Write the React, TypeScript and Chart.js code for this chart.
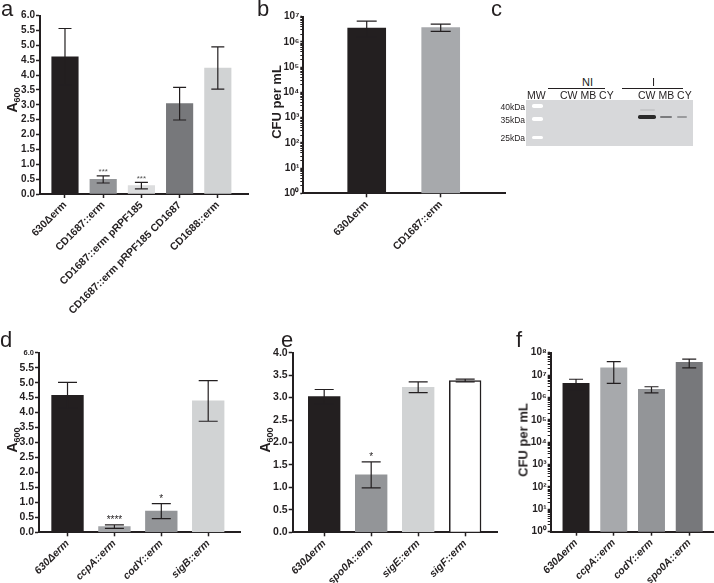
import React, { useEffect, useRef } from 'react';
import { Chart, registerables } from 'chart.js';

Chart.register(...registerables);

const FONT = "'Liberation Sans', Arial, Helvetica, sans-serif";
const INK = '#231f20';

// ---------- Panel a ----------
const aLabels = ['630Δerm', 'CD1687::erm', 'CD1687::erm pRPF185', 'CD1687::erm pRPF185 CD1687', 'CD1688::erm'];
const aMeans = [4.62, 0.49, 0.28, 3.04, 4.24];
const aErrors = [0.95, 0.12, 0.11, 0.55, 0.71];
const aStars = ['', '***', '***', '', ''];
const aColors = ['#231f20', '#939598', '#dcddde', '#77787b', '#d1d3d4'];

// ---------- Panel b ----------
const bLabels = ['630Δerm', 'CD1687::erm'];
const bMeans = [3.5e6, 3.7e6];
const bLow = [1.6e6, 2.6e6];
const bHigh = [6.7e6, 5.1e6];
const bColors = ['#231f20', '#a7a9ac'];

// ---------- Panel d ----------
const dLabels = ['630Δerm', 'ccpA::erm', 'codY::erm', 'sigB::erm'];
const dMeans = [4.58, 0.19, 0.71, 4.39];
const dErrors = [0.43, 0.06, 0.25, 0.68];
const dStars = ['', '****', '*', ''];
const dColors = ['#231f20', '#a2a4a7', '#939598', '#d1d3d4'];

// ---------- Panel e ----------
const eLabels = ['630Δerm', 'spo0A::erm', 'sigE::erm', 'sigF::erm'];
const eMeans = [3.02, 1.28, 3.23, 3.38];
const eErrors = [0.16, 0.29, 0.12, 0.03];
const eStars = ['', '*', '', ''];
const eColors = ['#231f20', '#939598', '#d1d3d4', '#ffffff'];
const eEdges = ['#231f20', '#939598', '#d1d3d4', '#231f20'];
const eEdgeWidths = [0, 0, 0, 1.5];

// ---------- Panel f ----------
const fLabels = ['630Δerm', 'ccpA::erm', 'codY::erm', 'spo0A::erm'];
const fMeans = [4.3e6, 2.1e7, 2.3e6, 3.7e7];
const fLow = [2.2e6, 4.3e6, 1.6e6, 2.1e7];
const fHigh = [6.5e6, 4.0e7, 3.0e6, 5.2e7];
const fColors = ['#231f20', '#a7a9ac', '#939598', '#77787b'];

// ---------- Axis tick labels ----------
const SUP = ['⁰', '¹', '²', '³', '⁴', '⁵', '⁶', '⁷', '⁸', '⁹'];

type Spec = {
  box: [number, number, number, number];
  plot: [number, number, number, number];
  xRange: [number, number];
  labels: string[];
  means: number[];
  low: number[];
  high: number[];
  colors: string[];
  edges?: string[];
  edgeWidths?: number[];
  stars?: string[];
  starSize: number;
  starColor: string;
  log: boolean;
  yRange: [number, number];
  yStep?: number;
  yFont: number;
  yTopSmall?: boolean;
  xFont: number;
  italic: boolean;
  barPx: number;
  capPx: number;
};

function sub(a: number[], b: number[]) {
  return a.map((v, i) => v - b[i]);
}
function add(a: number[], b: number[]) {
  return a.map((v, i) => v + b[i]);
}

const specs: Spec[] = [
  {
    box: [0, 0, 252, 340],
    plot: [40, 15.7, 248, 194],
    xRange: [-0.654, 4.79],
    labels: aLabels,
    means: aMeans,
    low: sub(aMeans, aErrors),
    high: add(aMeans, aErrors),
    colors: aColors,
    stars: aStars,
    starSize: 8,
    starColor: '#555',
    log: false,
    yRange: [0, 6],
    yStep: 0.5,
    yFont: 10,
    xFont: 10.5,
    italic: false,
    barPx: 26.5,
    capPx: 13,
  },
  {
    box: [255, 0, 252, 300],
    plot: [303.3, 16.7, 505, 193.3],
    xRange: [-0.857, 1.869],
    labels: bLabels,
    means: bMeans,
    low: bLow,
    high: bHigh,
    colors: bColors,
    starSize: 9,
    starColor: INK,
    log: true,
    yRange: [1, 1e7],
    yFont: 10,
    xFont: 10.5,
    italic: false,
    barPx: 38,
    capPx: 20,
  },
  {
    box: [0, 320, 250, 263],
    plot: [39, 352.7, 240, 532.3],
    xRange: [-0.608, 3.678],
    labels: dLabels,
    means: dMeans,
    low: sub(dMeans, dErrors),
    high: add(dMeans, dErrors),
    colors: dColors,
    stars: dStars,
    starSize: 10,
    starColor: INK,
    log: false,
    yRange: [0, 6],
    yStep: 0.5,
    yFont: 10.5,
    yTopSmall: true,
    xFont: 10.5,
    italic: true,
    barPx: 31.7,
    capPx: 19,
  },
  {
    box: [250, 320, 250, 263],
    plot: [292.7, 352.7, 497, 532.3],
    xRange: [-0.67, 3.677],
    labels: eLabels,
    means: eMeans,
    low: sub(eMeans, eErrors),
    high: add(eMeans, eErrors),
    colors: eColors,
    edges: eEdges,
    edgeWidths: eEdgeWidths,
    stars: eStars,
    starSize: 10,
    starColor: INK,
    log: false,
    yRange: [0, 4],
    yStep: 0.5,
    yFont: 10.5,
    xFont: 10.5,
    italic: true,
    barPx: 31.7,
    capPx: 19,
  },
  {
    box: [500, 320, 214, 263],
    plot: [550.7, 352.7, 713, 531.7],
    xRange: [-0.671, 3.63],
    labels: fLabels,
    means: fMeans,
    low: fLow,
    high: fHigh,
    colors: fColors,
    starSize: 9,
    starColor: INK,
    log: true,
    yRange: [1, 1e8],
    yFont: 10,
    xFont: 10.5,
    italic: true,
    barPx: 26.3,
    capPx: 14,
  },
];

function isPow10(v: number) {
  const e = Math.log10(v);
  return Math.abs(e - Math.round(e)) < 1e-9;
}

function ChartPanel({ spec }: { spec: Spec }) {
  const ref = useRef<HTMLCanvasElement>(null);
  const [bl, bt, bw, bh] = spec.box;
  useEffect(() => {
    if (!ref.current) return;
    const [pl, pt, pr, pb] = spec.plot;
    const L = pl - bl;
    const T = pt - bt;
    const R = pr - bl;
    const B = pb - bt;

    const errPlugin = {
      id: 'errBars',
      afterDatasetsDraw(chart: any) {
        const ctx = chart.ctx as CanvasRenderingContext2D;
        const ys = chart.scales.y;
        const meta = chart.getDatasetMeta(0);
        ctx.save();
        ctx.strokeStyle = INK;
        ctx.lineWidth = 1.2;
        meta.data.forEach((el: any, i: number) => {
          const x = el.x;
          const yl = ys.getPixelForValue(spec.low[i]);
          const yh = ys.getPixelForValue(spec.high[i]);
          const h = spec.capPx / 2;
          ctx.beginPath();
          ctx.moveTo(x, yl);
          ctx.lineTo(x, yh);
          ctx.moveTo(x - h, yh);
          ctx.lineTo(x + h, yh);
          ctx.moveTo(x - h, yl);
          ctx.lineTo(x + h, yl);
          ctx.stroke();
          const s = spec.stars ? spec.stars[i] : '';
          if (s) {
            ctx.fillStyle = spec.starColor;
            ctx.font = `${spec.starSize}px ${FONT}`;
            ctx.textAlign = 'center';
            ctx.textBaseline = 'alphabetic';
            ctx.fillText(s, x, yh - 1.5);
          }
        });
        ctx.restore();
      },
    };

    const labels = spec.labels;
    const chart = new Chart(ref.current, {
      type: 'bar',
      data: {
        datasets: [
          {
            data: spec.means.map((v, i) => ({ x: i, y: v })),
            backgroundColor: spec.colors,
            borderColor: spec.edges || spec.colors,
            borderWidth: spec.edgeWidths || 0,
            barThickness: spec.barPx,
          } as any,
        ],
      },
      options: {
        responsive: false,
        animation: false,
        events: [],
        layout: { padding: { left: 0, top: T, right: bw - R, bottom: 0 } },
        plugins: { legend: { display: false }, tooltip: { enabled: false } },
        scales: {
          x: {
            type: 'linear',
            min: spec.xRange[0],
            max: spec.xRange[1],
            offset: false,
            grid: {
              display: true,
              offset: false,
              drawOnChartArea: false,
              drawTicks: true,
              tickLength: 4,
              tickColor: INK,
              tickWidth: 1.5,
            },
            border: { display: true, color: INK, width: 2 },
            ticks: {
              autoSkip: false,
              minRotation: 45,
              maxRotation: 45,
              padding: 1,
              color: INK,
              font: { family: FONT, size: spec.xFont, weight: 'bold', style: spec.italic ? 'italic' : 'normal' },
              callback: (v: any) => labels[Math.round(Number(v))] ?? '',
            },
            afterBuildTicks: (axis: any) => {
              axis.ticks = labels.map((_, i) => ({ value: i }));
            },
            afterFit: (axis: any) => {
              axis.height = bh - B;
            },
          } as any,
          y: spec.log
            ? ({
                type: 'logarithmic',
                min: spec.yRange[0],
                max: spec.yRange[1],
                border: { display: true, color: INK, width: 2 },
                grid: {
                  display: true,
                  drawOnChartArea: false,
                  drawTicks: true,
                  tickLength: 3,
                  tickColor: INK,
                  tickWidth: (c: any) => (c.tick && isPow10(c.tick.value) ? 1.5 : 1),
                },
                ticks: {
                  autoSkip: false,
                  padding: 1,
                  color: INK,
                  font: { family: FONT, size: spec.yFont, weight: 'bold' },
                  callback: (v: any) => {
                    const n = Number(v);
                    if (!isPow10(n)) return '';
                    const e = Math.round(Math.log10(n));
                    return '10' + String(e).split('').map((d) => SUP[Number(d)]).join('');
                  },
                },
                afterBuildTicks: (axis: any) => {
                  axis.ticks = axis.ticks.filter((t: any) => {
                    const m = t.value / Math.pow(10, Math.floor(Math.log10(t.value) + 1e-9));
                    return Math.abs(m - Math.round(m)) < 1e-6;
                  });
                },
                afterFit: (axis: any) => {
                  axis.width = L;
                },
              } as any)
            : ({
                type: 'linear',
                min: spec.yRange[0],
                max: spec.yRange[1],
                border: { display: true, color: INK, width: 2 },
                grid: {
                  display: true,
                  drawOnChartArea: false,
                  drawTicks: true,
                  tickLength: 4,
                  tickColor: INK,
                  tickWidth: 1.5,
                },
                ticks: {
                  autoSkip: false,
                  stepSize: spec.yStep,
                  padding: 1,
                  color: INK,
                  font: (c: any) => ({
                    family: FONT,
                    size: spec.yTopSmall && c.tick && c.tick.value === spec.yRange[1] ? 7.5 : spec.yFont,
                    weight: 'bold',
                  }),
                  callback: (v: any) => Number(v).toFixed(1),
                },
                afterFit: (axis: any) => {
                  axis.width = L;
                },
              } as any),
        },
      },
      plugins: [errPlugin],
    } as any);
    return () => chart.destroy();
  }, [spec]);
  return (
    <canvas
      ref={ref}
      width={bw}
      height={bh}
      style={{ position: 'absolute', left: bl, top: bt, width: bw, height: bh }}
    />
  );
}

function Txt({
  x,
  y,
  size,
  children,
  anchor = 'left',
  weight = 'normal',
  color = INK,
}: {
  x: number;
  y: number;
  size: number;
  children: React.ReactNode;
  anchor?: 'left' | 'right';
  weight?: string;
  color?: string;
}) {
  const style: React.CSSProperties = {
    position: 'absolute',
    top: Math.round(y - size * 0.8465),
    fontSize: size,
    lineHeight: `${size}px`,
    fontFamily: FONT,
    fontWeight: weight as any,
    color,
    whiteSpace: 'nowrap',
  };
  if (anchor === 'left') style.left = x;
  else style.right = 714 - x;
  return <div style={style}>{children}</div>;
}

function VTitle({ cx, cy, children }: { cx: number; cy: number; children: React.ReactNode }) {
  return (
    <div
      style={{
        position: 'absolute',
        left: cx,
        top: cy,
        transform: 'translate(-50%, -50%) rotate(-90deg)',
        fontFamily: FONT,
        fontWeight: 'bold',
        fontSize: 13,
        lineHeight: 1,
        whiteSpace: 'nowrap',
        color: INK,
      }}
    >
      {children}
    </div>
  );
}

function A600() {
  return (
    <span style={{ fontSize: 14 }}>
      A<sub style={{ fontSize: 9, verticalAlign: '-3px' }}>600</sub>
    </span>
  );
}

function Band({ x, y, w, h, color, blur = 0.6 }: { x: number; y: number; w: number; h: number; color: string; blur?: number }) {
  return (
    <div
      style={{
        position: 'absolute',
        left: x,
        top: y - h / 2,
        width: w,
        height: h,
        background: color,
        borderRadius: h / 2,
        filter: `blur(${blur}px)`,
      }}
    />
  );
}

function Gel() {
  return (
    <>
      <Txt x={582} y={86} size={11}>NI</Txt>
      <div style={{ position: 'absolute', left: 548, top: 88, width: 57, height: 1, background: INK }} />
      <Txt x={652} y={86} size={11}>I</Txt>
      <div style={{ position: 'absolute', left: 622, top: 88, width: 61, height: 1, background: INK }} />
      <Txt x={527} y={99} size={10.5}>MW</Txt>
      <Txt x={560} y={99} size={10.5}>CW MB CY</Txt>
      <Txt x={638} y={99} size={10.5}>CW MB CY</Txt>
      <div style={{ position: 'absolute', left: 526, top: 100, width: 167, height: 46, background: '#d7d8da' }} />
      <Txt x={525} y={110} size={8.5} anchor="right">40kDa</Txt>
      <Txt x={525} y={123} size={8.5} anchor="right">35kDa</Txt>
      <Txt x={525} y={141} size={8.5} anchor="right">25kDa</Txt>
      <Band x={532} y={106} w={11} h={3.5} color="#ffffff" blur={0.3} />
      <Band x={532} y={119} w={11} h={3.5} color="#ffffff" blur={0.3} />
      <Band x={532} y={137.3} w={11} h={3.5} color="#ffffff" blur={0.3} />
      <Band x={640} y={110} w={15} h={2} color="#c6c7c9" />
      <Band x={638} y={117} w={18} h={3.5} color="#2a2a2a" />
      <Band x={660} y={117} w={12} h={2.5} color="#7a7b7d" />
      <Band x={677} y={117.3} w={10} h={2.2} color="#9a9b9d" />
    </>
  );
}

export default function App() {
  return (
    <div
      style={{
        position: 'fixed',
        left: 0,
        top: 0,
        width: 714,
        height: 583,
        background: '#ffffff',
        overflow: 'hidden',
        fontFamily: FONT,
      }}
    >
      {specs.map((s, i) => (
        <ChartPanel key={i} spec={s} />
      ))}
      <Txt x={1} y={17} size={22}>a</Txt>
      <Txt x={257} y={17} size={22}>b</Txt>
      <Txt x={491} y={17} size={22}>c</Txt>
      <Txt x={0} y={348} size={22}>d</Txt>
      <Txt x={281} y={348} size={22}>e</Txt>
      <Txt x={516} y={348} size={22}>f</Txt>
      <VTitle cx={13} cy={100}>
        <A600 />
      </VTitle>
      <VTitle cx={276} cy={102}>CFU per mL</VTitle>
      <VTitle cx={13} cy={440}>
        <A600 />
      </VTitle>
      <VTitle cx={266} cy={440}>
        <A600 />
      </VTitle>
      <VTitle cx={523} cy={440}>CFU per mL</VTitle>
      <Gel />
    </div>
  );
}
